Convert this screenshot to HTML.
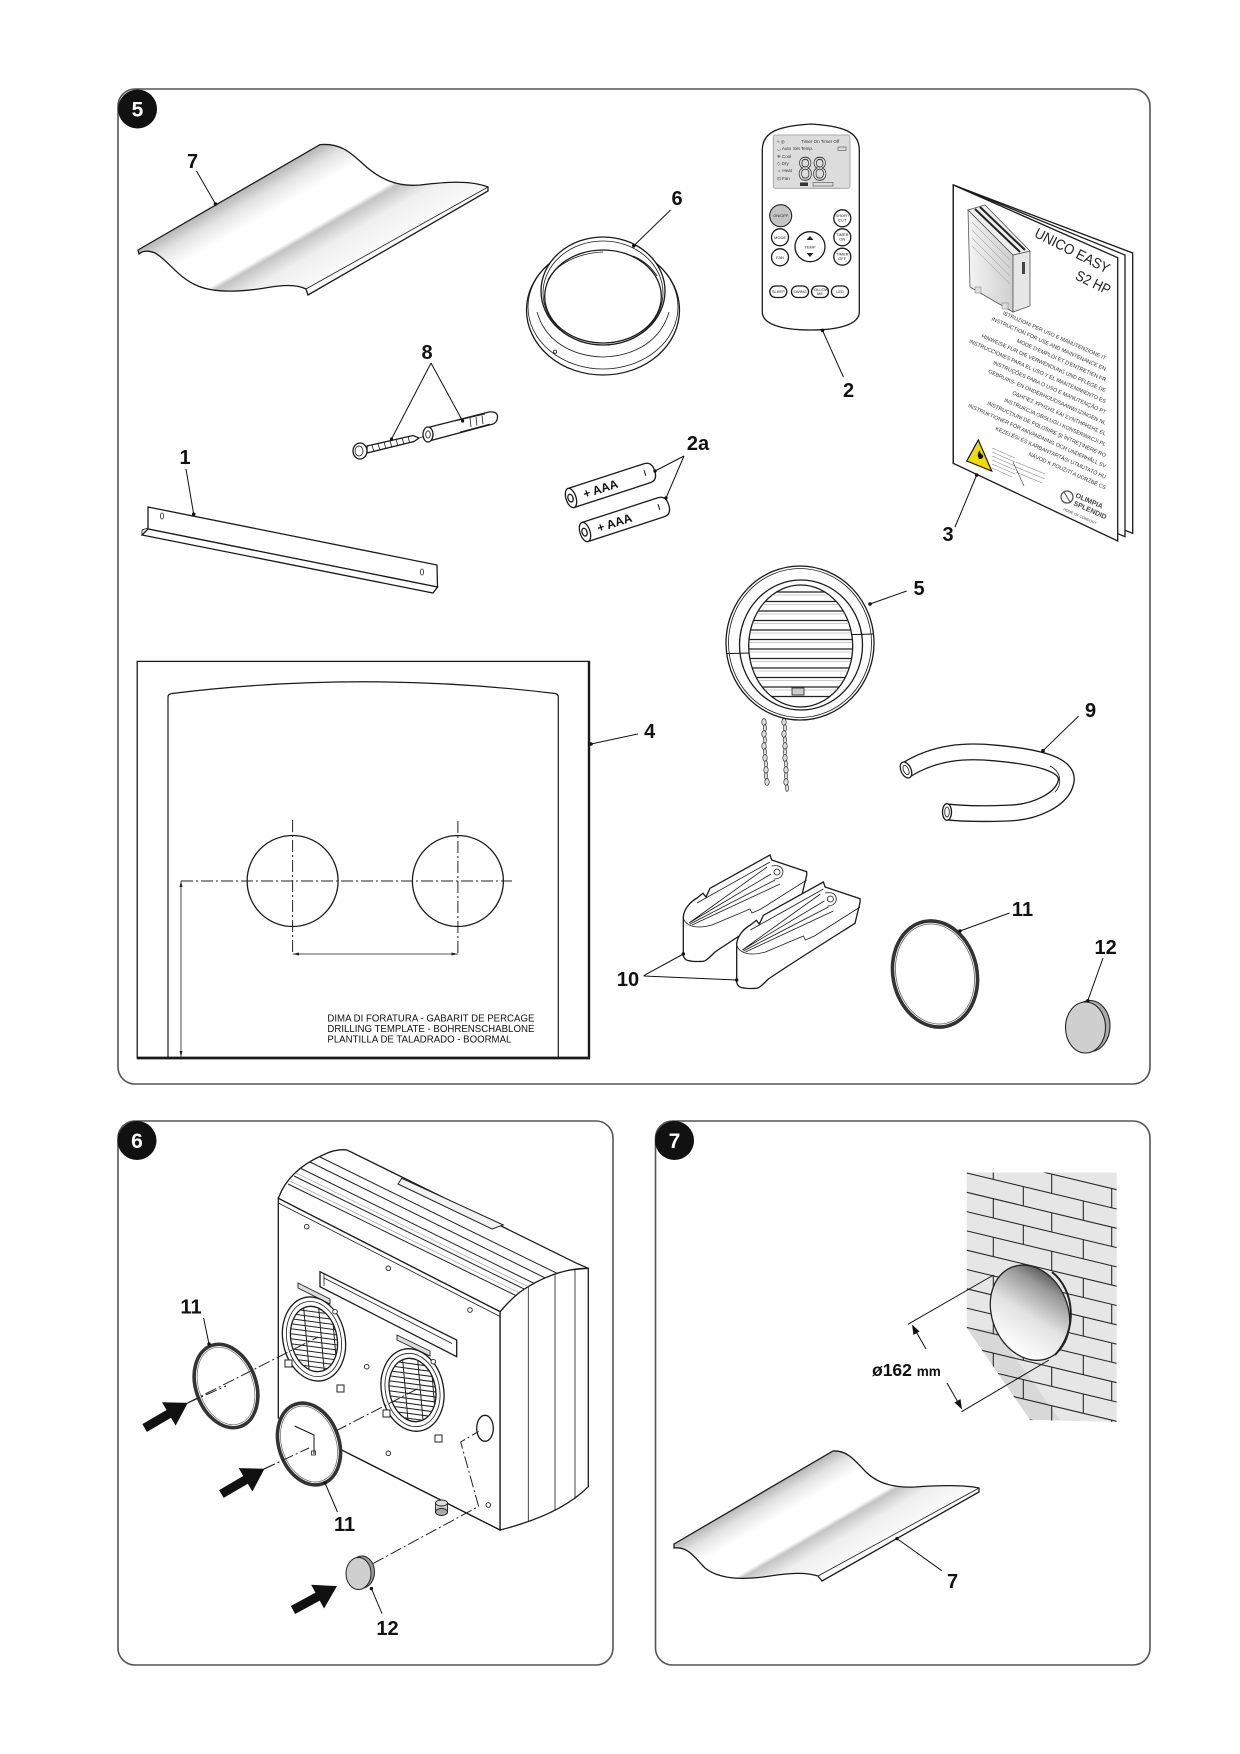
<!DOCTYPE html>
<html><head><meta charset="utf-8"><style>
html,body{margin:0;padding:0;background:#fff;}
svg{display:block;}
text{font-family:"Liberation Sans",Arial,sans-serif;}
.lb{font-size:20px;font-weight:bold;fill:#111;}
.ln{stroke:#111;stroke-width:1;fill:none;}
.o{stroke:#1a1a1a;stroke-width:1.3;fill:#fff;}
.t{stroke:#1a1a1a;stroke-width:0.8;fill:none;}
.dd{stroke:#222;stroke-width:1;fill:none;stroke-dasharray:12 3 2 3;}
.dot{fill:#111;}
.bt{font-size:4px;fill:#222;text-anchor:middle;}
</style></head><body>
<svg width="1240" height="1754" viewBox="0 0 1240 1754" xmlns="http://www.w3.org/2000/svg">
<defs>
<linearGradient id="sgA" gradientUnits="userSpaceOnUse" x1="229" y1="197" x2="290" y2="303">
<stop offset="0" stop-color="#b5b5b5"/><stop offset="0.12" stop-color="#e2e2e2"/><stop offset="0.28" stop-color="#fff"/><stop offset="0.56" stop-color="#fff"/><stop offset="0.6" stop-color="#c4c4c4"/><stop offset="0.75" stop-color="#efefef"/><stop offset="1" stop-color="#fbfbfb"/></linearGradient>
<linearGradient id="sgB" gradientUnits="userSpaceOnUse" x1="753" y1="1497" x2="807" y2="1590">
<stop offset="0" stop-color="#b5b5b5"/><stop offset="0.12" stop-color="#e2e2e2"/><stop offset="0.28" stop-color="#fff"/><stop offset="0.56" stop-color="#fff"/><stop offset="0.6" stop-color="#c4c4c4"/><stop offset="0.75" stop-color="#efefef"/><stop offset="1" stop-color="#fbfbfb"/></linearGradient>
<linearGradient id="hg" x1="0.15" y1="0.85" x2="0.9" y2="0.15">
<stop offset="0" stop-color="#fff"/><stop offset="0.45" stop-color="#e2e2e2"/><stop offset="0.8" stop-color="#9a9a9a"/><stop offset="1" stop-color="#555"/></linearGradient>
<linearGradient id="pg" x1="0" y1="0" x2="1" y2="0">
<stop offset="0" stop-color="#f4f4f4"/><stop offset="1" stop-color="#cfcfcf"/></linearGradient>
<clipPath id="gc5"><ellipse cx="800.7" cy="646" rx="52" ry="61"/></clipPath>
<clipPath id="wall"><polygon points="966.7,1172.5 1116.7,1172.5 1116.7,1422 1030,1420 966.7,1328"/></clipPath>
<clipPath id="topc"><path d="M278.3,1198.3 C285,1180 300,1165 323,1155 C333,1150 340,1149 347,1150 L576.7,1263.3 L588.3,1268.3 C565,1268 540,1278 520,1292 C510,1300 505,1306 500,1311.7 Z"/></clipPath>
<clipPath id="g6a"><ellipse cx="314" cy="1339" rx="23" ry="33" transform="rotate(-12 314 1339)"/></clipPath>
<clipPath id="g6b"><ellipse cx="412.5" cy="1390" rx="23" ry="32" transform="rotate(-12 412.5 1390)"/></clipPath>
</defs>

<!-- PANEL FRAMES -->
<rect x="118" y="89" width="1032" height="995" rx="17" fill="none" stroke="#555" stroke-width="1.6"/>
<rect x="118" y="1121" width="495" height="544" rx="17" fill="none" stroke="#555" stroke-width="1.6"/>
<rect x="655.5" y="1121" width="494.5" height="544" rx="17" fill="none" stroke="#555" stroke-width="1.6"/>
<circle cx="137.5" cy="109" r="19.5" fill="#111"/><text x="137.5" y="116.5" text-anchor="middle" font-size="21" font-weight="bold" fill="#fff">5</text>
<circle cx="137" cy="1140.5" r="19.5" fill="#111"/><text x="137" y="1148" text-anchor="middle" font-size="21" font-weight="bold" fill="#fff">6</text>
<circle cx="674.5" cy="1140.5" r="19.5" fill="#111"/><text x="674.5" y="1148" text-anchor="middle" font-size="21" font-weight="bold" fill="#fff">7</text>

<!-- ===== PANEL 5 ===== -->
<!-- 7 sheet -->
<path d="M138,250 L320,144.6 C340,143 350,152 362,163 C380,180 398,187 420,185 C445,182 470,180 488,187 L488,191 L308,295 L306,289 C296,284 282,285 265,288 C240,292 215,293 198,286 C178,278 168,260 155,253 C148,250 142,251 139,254 Z" fill="url(#sgA)" stroke="#1a1a1a" stroke-width="1.3"/>
<line x1="488" y1="187" x2="306" y2="289" class="t"/>
<text x="192.6" y="168" class="lb" text-anchor="middle">7</text>
<line x1="196.5" y1="171" x2="215.5" y2="204" class="ln"/><circle cx="215.5" cy="204" r="1.8" class="dot"/>

<!-- 6 ring -->
<ellipse cx="603" cy="310" rx="76.5" ry="65" class="o"/>
<ellipse cx="603" cy="307" rx="75" ry="62" class="t"/>
<path d="M537,312 C545,340 570,356 603,357 C636,356 661,340 669,312" class="t"/>
<ellipse cx="603" cy="291" rx="62" ry="54" class="o"/>
<ellipse cx="603" cy="293" rx="60" ry="52" class="t"/>
<ellipse cx="603" cy="296.5" rx="58.3" ry="46.5" class="o"/>
<path d="M548,280 C556,264 578,253 603,252 M633,256 C645,261 652,268 657,276" class="t"/>
<circle cx="555" cy="351.7" r="1.6" class="t"/>
<text x="677" y="205" class="lb" text-anchor="middle">6</text>
<line x1="670.6" y1="210" x2="633.8" y2="245.7" class="ln"/><circle cx="633.8" cy="245.7" r="1.8" class="dot"/>

<!-- 2 remote -->
<path d="M762.3,150 C762.3,132 778,126 810.8,124 C844,126 859.3,132 859.3,150 L859.3,312 C859.3,324 840,330 810.8,330 C781,330 762.3,324 762.3,312 Z" class="o"/>
<rect x="773.3" y="135" width="76.7" height="53.3" rx="2" fill="#dcdcdc" stroke="#999" stroke-width="0.8"/>
<text x="801" y="143" font-size="4.5" fill="#333">Timer On  Timer Off</text>
<text x="777" y="143" font-size="4.5" fill="#333">≈ ◎</text>
<text x="777" y="150" font-size="4.5" fill="#333">◡ Auto</text>
<text x="793" y="150" font-size="4.5" fill="#333">Set Temp.</text>
<text x="777" y="158" font-size="4.5" fill="#333">❄ Cool</text>
<text x="777" y="165" font-size="4.5" fill="#333">◇ Dry</text>
<text x="777" y="172" font-size="4.5" fill="#333">☼ Heat</text>
<text x="777" y="180" font-size="4.5" fill="#333">⊡ Fan</text>
<text x="798" y="180" font-size="32" textLength="29" lengthAdjust="spacingAndGlyphs" fill="none" stroke="#333" stroke-width="0.9">88</text>
<rect x="838" y="147" width="8" height="3.5" fill="none" stroke="#333" stroke-width="0.5"/>
<rect x="800" y="182.5" width="8" height="3.5" fill="#333"/>
<rect x="813" y="182.5" width="20" height="3.5" fill="none" stroke="#333" stroke-width="0.5"/>
<circle cx="780.7" cy="215.7" r="11" fill="#c4c4c4" stroke="#222" stroke-width="1.1"/><text x="780.7" y="217.2" class="bt">ON/OFF</text>
<circle cx="842.3" cy="218.3" r="8.5" class="o"/><text x="842.3" y="217" class="bt">SHORT</text><text x="842.3" y="221.5" class="bt">CUT</text>
<circle cx="780" cy="237.3" r="8.5" class="o"/><text x="780" y="238.8" class="bt">MODE</text>
<circle cx="842.3" cy="237.3" r="8.5" class="o"/><text x="842.3" y="236" class="bt">TIMER</text><text x="842.3" y="240.5" class="bt">ON</text>
<circle cx="780" cy="257.3" r="8.5" class="o"/><text x="780" y="258.8" class="bt">FAN</text>
<circle cx="842.3" cy="256.7" r="8.5" class="o"/><text x="842.3" y="255.4" class="bt">TIMER</text><text x="842.3" y="259.9" class="bt">OFF</text>
<circle cx="810" cy="246.7" r="15" class="o"/><text x="810" y="248.5" class="bt" font-size="4.5">TEMP</text>
<polygon points="806.5,240 813.5,240 810,236" fill="#222"/><polygon points="806.5,253 813.5,253 810,257" fill="#222"/>
<rect x="769.8" y="286" width="17" height="11.5" rx="5.7" class="o"/><text x="778.3" y="293" class="bt">SLEEP</text>
<rect x="791.5" y="286" width="17" height="11.5" rx="5.7" class="o"/><text x="800" y="293" class="bt">SWING</text>
<rect x="811.5" y="286" width="17" height="11.5" rx="5.7" class="o"/><text x="820" y="290.8" class="bt" font-size="3.5">FOLLOW</text><text x="820" y="295" class="bt" font-size="3.5">ME</text>
<rect x="831.5" y="286" width="17" height="11.5" rx="5.7" class="o"/><text x="840" y="293" class="bt">LED</text>
<text x="848.5" y="397" class="lb" text-anchor="middle">2</text>
<line x1="843.4" y1="377" x2="822.5" y2="330.4" class="ln"/><circle cx="822.5" cy="330.4" r="1.8" class="dot"/>

<!-- 3 manual -->
<polygon points="953.3,185 1132.7,253 1132.7,533.3 953.3,463.3" class="o"/>
<polygon points="953.3,185 1125,255 1125,536.7 953.3,463.3" class="o"/>
<polygon points="953.3,185 1117.7,257.7 1117.7,541 953.3,463.3" class="o"/>
<polygon points="968,210 1013,255 1013,312 970,287" fill="url(#pg)" stroke="#555" stroke-width="0.8"/>
<polygon points="1013,255 1030,251 1030,306 1013,312" fill="#e6e6e6" stroke="#555" stroke-width="0.8"/>
<polygon points="968,210 985,205 1030,251 1013,255" fill="#eee" stroke="#555" stroke-width="0.8"/>
<path d="M975,209 L1020,252 M980,207 L1025,250" stroke="#222" stroke-width="2"/>
<path d="M972,222 L1010,260 M972,230 L1010,268 M972,238 L1010,276 M972,246 L1010,284" stroke="#aaa" stroke-width="0.6"/>
<rect x="1022" y="262" width="3" height="12" fill="#444"/>
<rect x="975" y="287" width="6" height="6" fill="#ddd" stroke="#777" stroke-width="0.5"/>
<rect x="1002" y="303" width="6" height="6" fill="#ddd" stroke="#777" stroke-width="0.5"/>
<text transform="translate(1070,255) rotate(27)" text-anchor="middle" font-size="14.5" textLength="82" lengthAdjust="spacingAndGlyphs" fill="#222">UNICO EASY</text>
<text transform="translate(1091,287) rotate(26)" text-anchor="middle" font-size="14.5" textLength="37" lengthAdjust="spacingAndGlyphs" fill="#222">S2 HP</text>
<g font-size="5.4" fill="#333" text-anchor="end">
<text transform="translate(1105,360) rotate(24)">ISTRUZIONI PER USO E MANUTENZIONE  IT</text>
<text transform="translate(1105,370.8) rotate(24)">INSTRUCTION FOR USE AND MAINTENANCE  EN</text>
<text transform="translate(1105,381.6) rotate(24)">MODE D'EMPLOI ET D'ENTRETIEN  FR</text>
<text transform="translate(1105,392.4) rotate(24)">HINWEISE FÜR DIE VERWENDUNG UND PFLEGE  DE</text>
<text transform="translate(1105,403.2) rotate(24)">INSTRUCCIONES PARA EL USO Y EL MANTENIMIENTO  ES</text>
<text transform="translate(1105,414) rotate(24)">INSTRUÇÕES PARA O USO E MANUTENÇÃO  PT</text>
<text transform="translate(1105,424.8) rotate(24)">GEBRUIKS- EN ONDERHOUDSAANWIJZINGEN  NL</text>
<text transform="translate(1105,435.6) rotate(24)">ΟΔΗΓΙΕΣ ΧΡΗΣΗΣ ΚΑΙ ΣΥΝΤΗΡΗΣΗΣ  EL</text>
<text transform="translate(1105,446.4) rotate(24)">INSTRUKCJA OBSŁUGI I KONSERWACJI  PL</text>
<text transform="translate(1105,457.2) rotate(24)">INSTRUCŢIUNI DE FOLOSIRE ŞI ÎNTREŢINERE  RO</text>
<text transform="translate(1105,468) rotate(24)">INSTRUKTIONER FÖR ANVÄNDNING OCH UNDERHÅLL  SV</text>
<text transform="translate(1105,478.8) rotate(24)">KEZELÉSI ÉS KARBANTARTÁSI ÚTMUTATÓ  HU</text>
<text transform="translate(1105,489.6) rotate(24)">NÁVOD K POUŽITÍ A ÚDRŽBĚ  CS</text>
</g>
<polygon points="966.7,461 978.3,440 991.7,471" fill="#f0dc00" stroke="#111" stroke-width="1.2"/>
<path d="M979,459 q-3,-5 1,-9 q0,4 3,5 q1,4 -4,4 z" fill="#111"/>
<g stroke="#888" stroke-width="0.6">
<line x1="992" y1="448" x2="1015" y2="458"/><line x1="992" y1="452" x2="1015" y2="462"/><line x1="992" y1="456" x2="1015" y2="466"/><line x1="992" y1="460" x2="1015" y2="470"/><line x1="992" y1="464" x2="1015" y2="474"/><line x1="992" y1="468" x2="1012" y2="477"/>
<line x1="1016" y1="462" x2="1045" y2="474"/><line x1="1016" y1="467" x2="1045" y2="479"/><line x1="1016" y1="472" x2="1042" y2="483"/>
</g>
<line x1="1013" y1="462" x2="1024" y2="486" stroke="#333" stroke-width="0.6"/>
<circle cx="1067" cy="497" r="6" fill="none" stroke="#555" stroke-width="1.3"/>
<line x1="1064" y1="492" x2="1070" y2="502" stroke="#555" stroke-width="1"/>
<text transform="translate(1075,497) rotate(24)" font-size="7" font-weight="bold" fill="#444">OLIMPIA</text>
<text transform="translate(1073,505) rotate(24)" font-size="7" font-weight="bold" fill="#444">SPLENDID</text>
<text transform="translate(1063,510) rotate(24)" font-size="3.6" fill="#444">HOME OF COMFORT</text>
<text x="948" y="541" class="lb" text-anchor="middle">3</text>
<line x1="955" y1="527" x2="976.7" y2="475" class="ln"/><circle cx="976.7" cy="475" r="1.8" class="dot"/>

<!-- 8 screw & anchor -->
<path d="M367,446 L413,435.5 L419,438 L414,441.5 L367,453 Z" class="o"/>
<path d="M372,445 l2,7 M378,443.5 l2,7 M384,442 l2,7 M390,440.6 l2,7 M396,439.2 l2,7 M402,437.8 l2,6.5 M408,436.4 l1.5,6" class="t"/>
<ellipse cx="360" cy="451" rx="7" ry="8" class="o"/>
<ellipse cx="359" cy="451" rx="4" ry="5" class="t"/>
<line x1="420" y1="437.5" x2="424" y2="436.5" class="t"/>
<path d="M428,427.5 L489,412 Q498,411 497.5,417.5 Q497,424 489,425 L429,441 Z" class="o"/>
<path d="M455,421 L485,414 M460,432 L490,424 M470,418 l1,9 M476,417 l1,8.5 M482,415.5 l1,8.5" class="t"/>
<ellipse cx="428" cy="434.5" rx="5" ry="7.5" class="o"/>
<ellipse cx="428" cy="434.5" rx="2.3" ry="3.6" class="t"/>
<text x="427" y="359" class="lb" text-anchor="middle">8</text>
<line x1="431" y1="363" x2="391.5" y2="439" class="ln"/><circle cx="391.5" cy="439" r="1.6" class="dot"/>
<line x1="431" y1="363" x2="462.6" y2="421" class="ln"/><circle cx="462.6" cy="421" r="1.6" class="dot"/>

<!-- 1 rail -->
<polygon points="148,507 437,565 437.5,587 148,529" class="o"/>
<polygon points="148,529 437.5,587 433,593 142,535" class="o"/>
<line x1="142" y1="535" x2="142" y2="530" class="t"/><line x1="142" y1="530" x2="148" y2="528" class="t"/>
<ellipse cx="162" cy="516" rx="1.6" ry="3" class="t"/>
<ellipse cx="422" cy="572" rx="1.6" ry="3" class="t"/>
<text x="185" y="464" class="lb" text-anchor="middle">1</text>
<line x1="186" y1="469" x2="193.7" y2="514.3" class="ln"/><circle cx="193.7" cy="514.3" r="1.8" class="dot"/>

<!-- 2a batteries -->
<g transform="translate(571,498) rotate(-18)">
<path d="M0,-10 L80,-10 Q88,-10 88,0 Q88,10 80,10 L0,10 Z" class="o"/>
<ellipse cx="0" cy="0" rx="5" ry="10" class="o"/><ellipse cx="-0.5" cy="0" rx="2.5" ry="4" class="o"/>
<text x="13" y="4.5" font-size="12" font-weight="bold" fill="#111">+ AAA</text>
<line x1="78" y1="-4" x2="78" y2="2" class="ln"/>
</g>
<g transform="translate(585,532) rotate(-18)">
<path d="M0,-10 L80,-10 Q88,-10 88,0 Q88,10 80,10 L0,10 Z" class="o"/>
<ellipse cx="0" cy="0" rx="5" ry="10" class="o"/><ellipse cx="-0.5" cy="0" rx="2.5" ry="4" class="o"/>
<text x="13" y="4.5" font-size="12" font-weight="bold" fill="#111">+ AAA</text>
<line x1="78" y1="-4" x2="78" y2="2" class="ln"/>
</g>
<text x="698" y="450" class="lb" text-anchor="middle">2a</text>
<line x1="684" y1="456" x2="655" y2="471" class="ln"/><circle cx="655" cy="471" r="1.7" class="dot"/>
<line x1="684" y1="456" x2="666" y2="498" class="ln"/><circle cx="666" cy="498" r="1.7" class="dot"/>

<!-- 4 template -->
<rect x="137.2" y="661.4" width="451.8" height="396.6" fill="none" stroke="#1a1a1a" stroke-width="1.3"/>
<line x1="589" y1="661" x2="589" y2="1058" stroke="#1a1a1a" stroke-width="2.4"/>
<line x1="137" y1="1058" x2="590" y2="1058" stroke="#1a1a1a" stroke-width="2.8"/>
<path d="M168,1058 L168,697 Q168,694 172,693.5 Q363,670 555,693.5 Q558.3,694 558.3,697 L558.3,1058" fill="none" stroke="#1a1a1a" stroke-width="1.2"/>
<circle cx="292.6" cy="881" r="45.5" fill="none" stroke="#1a1a1a" stroke-width="1.3"/>
<circle cx="457.9" cy="881" r="45.5" fill="none" stroke="#1a1a1a" stroke-width="1.3"/>
<line x1="181" y1="881" x2="512" y2="881" class="dd" stroke-width="0.8"/>
<line x1="292.6" y1="820" x2="292.6" y2="954" class="dd" stroke-width="0.8"/>
<line x1="457.9" y1="821" x2="457.9" y2="954" class="dd" stroke-width="0.8"/>
<line x1="292.6" y1="954" x2="457.9" y2="954" stroke="#222" stroke-width="0.8"/>
<polygon points="292.6,954 299,952.5 299,955.5" fill="#222"/><polygon points="457.9,954 451.5,952.5 451.5,955.5" fill="#222"/>
<line x1="181" y1="881" x2="181" y2="1058" stroke="#222" stroke-width="0.8"/>
<polygon points="181,881 179.5,887 182.5,887" fill="#222"/><polygon points="181,1057 179.5,1051 182.5,1051" fill="#222"/>
<text x="327.4" y="1021.3" font-size="10" textLength="207" lengthAdjust="spacingAndGlyphs" fill="#111">DIMA DI FORATURA - GABARIT DE PERCAGE</text>
<text x="327.4" y="1032" font-size="10" textLength="207" lengthAdjust="spacingAndGlyphs" fill="#111">DRILLING TEMPLATE - BOHRENSCHABLONE</text>
<text x="327.4" y="1042.5" font-size="10" textLength="184" lengthAdjust="spacingAndGlyphs" fill="#111">PLANTILLA DE TALADRADO - BOORMAL</text>
<text x="649.7" y="738" class="lb" text-anchor="middle">4</text>
<line x1="638" y1="734" x2="591" y2="744" class="ln"/><circle cx="591" cy="744" r="1.8" class="dot"/>

<!-- 5 grille -->
<g stroke="#333" stroke-width="0.7" fill="#ddd">
<ellipse cx="764" cy="722" rx="2.2" ry="3.4"/><ellipse cx="765" cy="728" rx="1.4" ry="3.4"/><ellipse cx="764" cy="734" rx="2.2" ry="3.4"/><ellipse cx="765" cy="740" rx="1.4" ry="3.4"/><ellipse cx="764" cy="746" rx="2.2" ry="3.4"/><ellipse cx="765" cy="752" rx="1.4" ry="3.4"/><ellipse cx="765" cy="758" rx="2.2" ry="3.4"/><ellipse cx="766" cy="764" rx="1.4" ry="3.4"/><ellipse cx="766" cy="770" rx="2.2" ry="3.4"/><ellipse cx="766" cy="776" rx="1.4" ry="3.4"/><ellipse cx="767" cy="782" rx="2.2" ry="3.4"/>
<ellipse cx="784" cy="722" rx="2.2" ry="3.4"/><ellipse cx="785" cy="728" rx="1.4" ry="3.4"/><ellipse cx="784" cy="734" rx="2.2" ry="3.4"/><ellipse cx="785" cy="740" rx="1.4" ry="3.4"/><ellipse cx="785" cy="746" rx="2.2" ry="3.4"/><ellipse cx="785" cy="752" rx="1.4" ry="3.4"/><ellipse cx="785" cy="758" rx="2.2" ry="3.4"/><ellipse cx="786" cy="764" rx="1.4" ry="3.4"/><ellipse cx="786" cy="770" rx="2.2" ry="3.4"/><ellipse cx="786" cy="776" rx="1.4" ry="3.4"/><ellipse cx="786" cy="782" rx="2.2" ry="3.4"/><ellipse cx="787" cy="788" rx="1.4" ry="3.4"/>
</g>
<ellipse cx="800" cy="643" rx="74" ry="77" class="o"/>
<ellipse cx="800" cy="643" rx="71.5" ry="74.5" class="t"/>
<ellipse cx="801" cy="645" rx="61.5" ry="65" class="o"/>
<ellipse cx="800.7" cy="646" rx="52" ry="61" class="o"/>
<g clip-path="url(#gc5)">
<g stroke="#222" stroke-width="1.2">
<line x1="745" y1="592" x2="856" y2="592"/><line x1="745" y1="601.5" x2="856" y2="601.5"/><line x1="745" y1="611" x2="856" y2="611"/><line x1="745" y1="620.5" x2="856" y2="620.5"/><line x1="745" y1="630" x2="856" y2="630"/><line x1="745" y1="639.5" x2="856" y2="639.5"/><line x1="745" y1="649" x2="856" y2="649"/><line x1="745" y1="658.5" x2="856" y2="658.5"/><line x1="745" y1="668" x2="856" y2="668"/><line x1="745" y1="677.5" x2="856" y2="677.5"/><line x1="745" y1="687" x2="856" y2="687"/><line x1="745" y1="696.5" x2="856" y2="696.5"/>
</g>
<g stroke="#999" stroke-width="0.6">
<line x1="745" y1="595" x2="856" y2="595"/><line x1="745" y1="604.5" x2="856" y2="604.5"/><line x1="745" y1="614" x2="856" y2="614"/><line x1="745" y1="623.5" x2="856" y2="623.5"/><line x1="745" y1="633" x2="856" y2="633"/><line x1="745" y1="642.5" x2="856" y2="642.5"/><line x1="745" y1="652" x2="856" y2="652"/><line x1="745" y1="661.5" x2="856" y2="661.5"/><line x1="745" y1="671" x2="856" y2="671"/><line x1="745" y1="680.5" x2="856" y2="680.5"/><line x1="745" y1="690" x2="856" y2="690"/>
</g>
</g>
<line x1="726.8" y1="653.6" x2="749.5" y2="653" class="ln"/>
<line x1="851" y1="634.6" x2="873.5" y2="634" class="ln"/>
<rect x="792" y="688" width="12" height="7" fill="#ccc" stroke="#222" stroke-width="0.8"/>
<text x="919" y="595" class="lb" text-anchor="middle">5</text>
<line x1="906.7" y1="591" x2="870" y2="604" class="ln"/><circle cx="870" cy="604" r="1.8" class="dot"/>

<!-- 9 tube -->
<path d="M906,770 C935,752 965,750 995,753 C1040,757 1070,765 1066,782 C1062,800 1035,812 1010,813 C985,814 965,814 948,812" fill="none" stroke="#1a1a1a" stroke-width="17"/>
<path d="M906,770 C935,752 965,750 995,753 C1040,757 1070,765 1066,782 C1062,800 1035,812 1010,813 C985,814 965,814 948,812" fill="none" stroke="#fff" stroke-width="14.4"/>
<path d="M1050,766 C1062,772 1062,785 1055,792" class="t"/>
<ellipse cx="906" cy="770" rx="5" ry="8.5" transform="rotate(-25 906 770)" class="o"/>
<ellipse cx="906" cy="770" rx="2.5" ry="5" transform="rotate(-25 906 770)" class="t"/>
<ellipse cx="947" cy="812" rx="4.5" ry="8.3" class="o"/>
<ellipse cx="947" cy="812" rx="2.3" ry="5" class="t"/>
<text x="1090.5" y="717" class="lb" text-anchor="middle">9</text>
<line x1="1078.7" y1="716" x2="1043" y2="750.7" class="ln"/><circle cx="1043" cy="750.7" r="1.8" class="dot"/>

<!-- 10 feet -->
<g>
<path d="M683.3,916.7 C684,909 690,902 697,898 L703,893.3 L706,897 L710,888.3 L770,855 L771.7,860 L806.7,871.7 L806.7,875 L801.6,896.3 C780,910 740,935 715,952 C710,957 706,961 703.3,961.3 C695,962 688,961 686,959.7 C684,958 683.3,956 683.3,954.7 Z" class="o"/>
<path d="M683.3,918 C686,927 698,929 712,925 L750,909 L752,913 L761,909 L806.7,880" class="t"/>
<path d="M697,903 L770,862 M689,923 L767,867 M689,923 L771,874 M690,924 L775,880 M692,925 L780,884" class="t"/>
<path d="M771.7,866 Q782,864 783,872 Q782,879 774,879" class="t"/>
<circle cx="777" cy="872" r="3" class="t"/>
</g>
<g transform="translate(53.4,27)">
<path d="M683.3,916.7 C684,909 690,902 697,898 L703,893.3 L706,897 L710,888.3 L770,855 L771.7,860 L806.7,871.7 L806.7,875 L801.6,896.3 C780,910 740,935 715,952 C710,957 706,961 703.3,961.3 C695,962 688,961 686,959.7 C684,958 683.3,956 683.3,954.7 Z" class="o"/>
<path d="M683.3,918 C686,927 698,929 712,925 L750,909 L752,913 L761,909 L806.7,880" class="t"/>
<path d="M697,903 L770,862 M689,923 L767,867 M689,923 L771,874 M690,924 L775,880 M692,925 L780,884" class="t"/>
<path d="M771.7,866 Q782,864 783,872 Q782,879 774,879" class="t"/>
<circle cx="777" cy="872" r="3" class="t"/>
</g>
<text x="628" y="986" class="lb" text-anchor="middle">10</text>
<line x1="643.7" y1="975.7" x2="683.3" y2="954" class="ln"/><circle cx="683.3" cy="954" r="1.7" class="dot"/>
<line x1="643.7" y1="976" x2="736.7" y2="980" class="ln"/><circle cx="736.7" cy="980" r="1.7" class="dot"/>

<!-- 11 ring -->
<ellipse cx="935" cy="974" rx="42" ry="53.5" transform="rotate(-12 935 974)" fill="none" stroke="#333" stroke-width="3.6"/>
<ellipse cx="935" cy="974" rx="39" ry="50.5" transform="rotate(-12 935 974)" fill="none" stroke="#666" stroke-width="0.8"/>
<text x="1022.5" y="916" class="lb" text-anchor="middle">11</text>
<line x1="1009.5" y1="913" x2="960" y2="931" class="ln"/><circle cx="960" cy="931" r="1.7" class="dot"/>

<!-- 12 cap -->
<ellipse cx="1090" cy="1026" rx="20" ry="25.5" fill="#aaa" stroke="#222" stroke-width="1.1"/>
<ellipse cx="1085.5" cy="1027.5" rx="20" ry="25.5" fill="#cfcfcf" stroke="#222" stroke-width="1.1"/>
<text x="1105.6" y="954" class="lb" text-anchor="middle">12</text>
<line x1="1103" y1="958" x2="1087.8" y2="1000.7" class="ln"/><circle cx="1087.8" cy="1000.7" r="1.7" class="dot"/>

<!-- ===== PANEL 6 ===== -->
<path d="M500,1311.7 C510,1300 520,1290 530,1283 C545,1274 560,1270 588.3,1268.3 L588.3,1486.7 C570,1505 540,1520 500,1530 Z" class="o"/>
<path d="M528.3,1282 L528.3,1522 M555,1271 L555,1511 M575,1268.6 L575,1499" class="t"/>
<path d="M278.3,1198.3 C285,1180 300,1165 323,1155 C333,1150 340,1149 347,1150 L576.7,1263.3 L588.3,1268.3 C565,1268 540,1278 520,1292 C510,1300 505,1306 500,1311.7 Z" class="o"/>
<g clip-path="url(#topc)" stroke="#222" stroke-width="1" fill="none">
<path d="M300,1168 L580,1306 M294,1176 L575,1314 M288,1184 L570,1322 M310,1162 L590,1300 M320,1157 L595,1292"/>
<path d="M296,1173 L578,1311 M290,1181 L573,1319" stroke="#999" stroke-width="0.6"/>
</g>
<polygon points="401.7,1178.3 503.3,1225 492,1229 398,1184" fill="#f2f2f2" stroke="#222" stroke-width="1"/>
<polygon points="278.3,1198.3 500,1311.7 500,1530 278.3,1418" class="o"/>
<line x1="278.3" y1="1203" x2="500" y2="1316.5" class="t"/>
<polygon points="320,1271.7 456.7,1340 456.7,1356.7 320,1286.7" class="o"/>
<line x1="324" y1="1278" x2="452" y2="1343.5" class="t"/><line x1="324" y1="1274" x2="324" y2="1286" class="t"/>
<polygon points="298,1283 330,1299 330,1304 298,1288" fill="#ddd" stroke="#222" stroke-width="0.9"/>
<polygon points="397,1335 430,1351 430,1356 397,1340" fill="#ddd" stroke="#222" stroke-width="0.9"/>
<ellipse cx="314" cy="1339" rx="31" ry="42.5" transform="rotate(-12 314 1339)" class="o"/>
<ellipse cx="314" cy="1339" rx="27" ry="38" transform="rotate(-12 314 1339)" class="t"/>
<ellipse cx="314" cy="1339" rx="23" ry="33" transform="rotate(-12 314 1339)" class="o"/>
<g clip-path="url(#g6a)" stroke="#222" stroke-width="1">
<path d="M285,1303 L345,1311 M285,1308 L345,1316 M285,1313 L345,1321 M285,1318 L345,1326 M285,1323 L345,1331 M285,1328 L345,1336 M285,1333 L345,1341 M285,1338 L345,1346 M285,1343 L345,1351 M285,1348 L345,1356 M285,1353 L345,1361 M285,1358 L345,1366 M285,1363 L345,1371 M285,1368 L345,1376"/>
<path d="M303,1300 L310,1380 M318,1300 L325,1380 M331,1300 L338,1380"/>
</g>
<ellipse cx="412.5" cy="1390" rx="31" ry="41.7" transform="rotate(-12 412.5 1390)" class="o"/>
<ellipse cx="412.5" cy="1390" rx="27" ry="37" transform="rotate(-12 412.5 1390)" class="t"/>
<ellipse cx="412.5" cy="1390" rx="23" ry="32" transform="rotate(-12 412.5 1390)" class="o"/>
<g clip-path="url(#g6b)" stroke="#222" stroke-width="1">
<path d="M383,1355 L443,1363 M383,1360 L443,1368 M383,1365 L443,1373 M383,1370 L443,1378 M383,1375 L443,1383 M383,1380 L443,1388 M383,1385 L443,1393 M383,1390 L443,1398 M383,1395 L443,1403 M383,1400 L443,1408 M383,1405 L443,1413 M383,1410 L443,1418 M383,1415 L443,1423 M383,1420 L443,1428"/>
<path d="M402,1352 L409,1432 M417,1352 L424,1432 M430,1352 L437,1432"/>
</g>
<g fill="#fff" stroke="#222" stroke-width="1">
<rect x="285" y="1360" width="7" height="7"/><rect x="337" y="1385" width="7" height="7"/><rect x="383" y="1410" width="7" height="7"/><rect x="435" y="1435" width="7" height="7"/>
</g>
<g fill="#fff" stroke="#222" stroke-width="0.9">
<circle cx="306.7" cy="1226.7" r="2.3"/><circle cx="388.3" cy="1268.3" r="2.3"/><circle cx="470" cy="1310" r="2.3"/><circle cx="335" cy="1311.7" r="2.3"/><circle cx="366.7" cy="1366.7" r="2.3"/><circle cx="433.3" cy="1361.7" r="2.3"/><circle cx="388.3" cy="1453.3" r="2.3"/><circle cx="488.3" cy="1505" r="2.3"/>
</g>
<ellipse cx="485" cy="1428.3" rx="8.3" ry="13" class="o"/>
<line x1="348.3" y1="1453.3" x2="500" y2="1530" class="ln"/>
<rect x="435.5" y="1503" width="12" height="9" fill="#ccc" stroke="#222" stroke-width="0.9"/>
<ellipse cx="441.5" cy="1512" rx="6" ry="3.5" fill="#aaa" stroke="#222" stroke-width="0.9"/>
<ellipse cx="441.5" cy="1503" rx="6" ry="3" fill="#ddd" stroke="#222" stroke-width="0.9"/>
<line x1="187.5" y1="1403" x2="318" y2="1337" class="dd"/>
<line x1="264" y1="1469" x2="307" y2="1449" class="dd"/>
<line x1="335.7" y1="1431" x2="418" y2="1388.6" class="dd"/>
<polyline points="373,1563.6 478.6,1506.4 460.7,1442 478.6,1431.4" class="dd"/>
<ellipse cx="226" cy="1386" rx="30" ry="43" transform="rotate(-20 226 1386)" fill="#fff" fill-opacity="0" stroke="#333" stroke-width="3.6"/>
<ellipse cx="226" cy="1386" rx="27" ry="40" transform="rotate(-20 226 1386)" fill="none" stroke="#666" stroke-width="0.7"/>
<line x1="187.5" y1="1403" x2="226" y2="1386" class="dd"/>
<ellipse cx="309" cy="1444" rx="30" ry="42" transform="rotate(-19 309 1444)" fill="#fff" stroke="#333" stroke-width="3.6"/>
<ellipse cx="309" cy="1444" rx="27" ry="39" transform="rotate(-19 309 1444)" fill="none" stroke="#666" stroke-width="0.7"/>
<polyline points="294.6,1426 314,1435 314,1454" class="ln"/>
<rect x="311.5" y="1451" width="4" height="4" fill="none" stroke="#222" stroke-width="0.8"/>
<line x1="264" y1="1469" x2="309" y2="1448" class="dd"/>
<polygon points="0,-4.5 28,-4.5 28,-13.5 50,0 28,13.5 28,4.5 0,4.5" fill="#111" transform="translate(144.6,1428) rotate(-30.2)"/>
<polygon points="0,-4.5 28,-4.5 28,-13.5 50,0 28,13.5 28,4.5 0,4.5" fill="#111" transform="translate(221.4,1494) rotate(-30.4)"/>
<polygon points="0,-4.5 28,-4.5 28,-13.5 50,0 28,13.5 28,4.5 0,4.5" fill="#111" transform="translate(293,1610) rotate(-28.5)"/>
<ellipse cx="362" cy="1572" rx="12.5" ry="16" fill="#999" stroke="#222" stroke-width="1"/>
<ellipse cx="358.5" cy="1573.5" rx="12.5" ry="16" fill="#cfcfcf" stroke="#222" stroke-width="1"/>
<text x="191" y="1313.5" class="lb" text-anchor="middle">11</text>
<line x1="203.6" y1="1318" x2="209" y2="1344" class="ln"/><circle cx="209" cy="1344" r="1.7" class="dot"/>
<text x="344.6" y="1531" class="lb" text-anchor="middle">11</text>
<line x1="337.5" y1="1512" x2="325" y2="1483" class="ln"/><circle cx="325" cy="1483" r="1.7" class="dot"/>
<text x="387.5" y="1635" class="lb" text-anchor="middle">12</text>
<line x1="382" y1="1613.6" x2="371.4" y2="1588.6" class="ln"/><circle cx="371.4" cy="1588.6" r="1.7" class="dot"/>

<!-- ===== PANEL 7 ===== -->
<polygon points="966.7,1172.5 1116.7,1172.5 1116.7,1422 1030,1420 966.7,1328" fill="#e6e6e6"/>
<polygon points="966.7,1328 1030,1420 1060,1420 995,1330" fill="#d8d8d8" clip-path="url(#wall)"/>
<g clip-path="url(#wall)" stroke="#2a2a2a" stroke-width="1.1" fill="none">
<path d="M966.7,1153.7 L1116.7,1189.7 M966.7,1173 L1116.7,1209 M966.7,1192.3 L1116.7,1228.3 M966.7,1211.6 L1116.7,1247.6 M966.7,1230.9 L1116.7,1266.9 M966.7,1250.2 L1116.7,1286.2 M966.7,1269.5 L1116.7,1305.5 M966.7,1288.8 L1116.7,1324.8 M966.7,1308.1 L1116.7,1344.1 M966.7,1327.4 L1116.7,1363.4 M966.7,1346.7 L1116.7,1382.7 M966.7,1366 L1116.7,1402 M966.7,1385.3 L1116.7,1421.3 M966.7,1404.6 L1116.7,1440.6"/>
<path d="M1023.3,1186.6 V1205.9 M1083.3,1201 V1220.3 M1023.3,1225.2 V1244.5 M1083.3,1239.6 V1258.9 M1023.3,1263.8 V1283.1 M1083.3,1278.2 V1297.5 M1023.3,1302.4 V1321.7 M1083.3,1316.8 V1336.1 M1023.3,1341 V1360.3 M1083.3,1355.4 V1374.7 M1023.3,1379.6 V1398.9 M1083.3,1394 V1413.3 M1023.3,1418.2 V1437.5"/>
<path d="M993.3,1160.1 V1179.4 M1051.7,1174.1 V1193.4 M1111.7,1188.5 V1207.8 M993.3,1198.7 V1218 M1051.7,1212.7 V1232 M1111.7,1227.1 V1246.4 M993.3,1237.3 V1256.6 M1051.7,1251.3 V1270.6 M1111.7,1265.7 V1285 M993.3,1275.9 V1295.2 M1051.7,1289.9 V1309.2 M1111.7,1304.3 V1323.6 M993.3,1314.5 V1333.8 M1051.7,1328.5 V1347.8 M1111.7,1342.9 V1362.2 M993.3,1353.1 V1372.4 M1051.7,1367.1 V1386.4 M1111.7,1381.5 V1400.8 M993.3,1391.7 V1411 M1051.7,1405.7 V1425 M1111.7,1420.1 V1439.4"/>
</g>
<ellipse cx="1030" cy="1312.7" rx="38" ry="49" transform="rotate(-22 1030 1312.7)" fill="url(#hg)" stroke="#222" stroke-width="1.3"/>
<path d="M1052,1272 C1075,1290 1078,1330 1055,1355" fill="none" stroke="#222" stroke-width="2"/>
<line x1="993.6" y1="1275" x2="907.9" y2="1324.3" class="ln"/>
<line x1="1049" y1="1360" x2="961.4" y2="1411.8" class="ln"/>
<line x1="926" y1="1349" x2="914" y2="1328" class="ln"/>
<polygon points="912,1324.5 913.5,1335 919.5,1331.5" fill="#111"/>
<line x1="947" y1="1383" x2="959" y2="1404" class="ln"/>
<polygon points="962,1409.5 960.5,1399 954.5,1402.5" fill="#111"/>
<text x="872" y="1376" font-size="17.5" font-weight="bold" fill="#111">ø162 <tspan font-size="13.5">mm</tspan></text>
<path d="M674,1544 L833,1451 C848,1450 856,1462 866,1472 C878,1484 895,1488 915,1487 C940,1485 965,1485 979,1488 L979,1492 L822,1581 L818,1576 C805,1572 790,1573 770,1576 C745,1580 720,1580 705,1568 C695,1558 688,1546 674,1548 Z" fill="url(#sgB)" stroke="#1a1a1a" stroke-width="1.3"/>
<line x1="979" y1="1488" x2="818" y2="1576" class="t"/>
<text x="952.5" y="1588" class="lb" text-anchor="middle">7</text>
<line x1="941.8" y1="1570.7" x2="897" y2="1538.6" class="ln"/><circle cx="897" cy="1538.6" r="1.7" class="dot"/>
</svg>
</body></html>
